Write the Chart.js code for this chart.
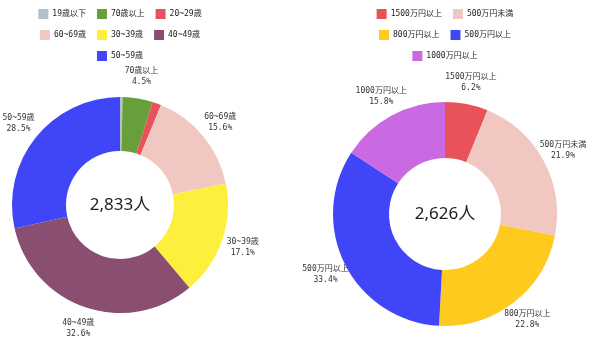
<!DOCTYPE HTML>
<html>
<head>
  <title>Doughnut</title>
  <script src="https://cdn.jsdelivr.net/npm/chart.js"></script>
  <style>
    body { margin:0; background:#fff; overflow:hidden; }
    .box { position:absolute; top:0; width:300px; height:360px; }
  </style>
</head>
<body>
  <div class="box" style="left:0px"><canvas id="ageChart" width="300" height="360"></canvas></div>
  <div class="box" style="left:300px"><canvas id="incomeChart" width="300" height="360"></canvas></div>

  <script type="text/javascript">
    // age chart
    var ageLabels = ["19歳以下", "70歳以上", "20~29歳", "60~69歳", "30~39歳", "40~49歳", "50~59歳"];
    var ageValues = [0.4, 4.5, 1.3, 15.6, 17.1, 32.6, 28.5];
    var ageColors = ["#b3c0c9", "#67a03a", "#e8525a", "#f0c8c1", "#fdef3c", "#8a4f70", "#4046f8"];
    var ageTotal  = "2,833人";

    // income chart
    var incLabels = ["1500万円以上", "500万円未満", "800万円以上", "500万円以上", "1000万円以上"];
    var incValues = [6.2, 21.9, 22.8, 33.4, 15.8];
    var incColors = ["#e8535a", "#f0c8c1", "#fdca1d", "#4046f8", "#c96ae2"];
    var incTotal  = "2,626人";

    var labelFont = '8px "DejaVu Sans Mono", "Noto Sans CJK JP", monospace';

    // draws name + percent outside every big enough slice
    var outsideLabels = {
      id: 'outsideLabels',
      afterDatasetsDraw: function(chart) {
        var ctx = chart.ctx;
        var meta = chart.getDatasetMeta(0);
        var ds = chart.data.datasets[0];
        ctx.save();
        ctx.font = labelFont;
        ctx.fillStyle = '#333';
        ctx.textAlign = 'center';
        ctx.textBaseline = 'middle';
        meta.data.forEach(function(arc, i) {
          if (ds.data[i] < 3) return;
          var p = arc.getProps(['x', 'y', 'startAngle', 'endAngle', 'outerRadius'], true);
          var mid = (p.startAngle + p.endAngle) / 2;
          var r = p.outerRadius + 22;
          var lx = p.x + Math.cos(mid) * r;
          var ly = p.y + Math.sin(mid) * r;
          ctx.fillText(chart.data.labels[i], lx, ly - 5.5);
          ctx.fillText(ds.data[i].toFixed(1) + '%', lx, ly + 5.5);
        });
        ctx.restore();
      }
    };

    // total in the hole
    var centerText = {
      id: 'centerText',
      afterDraw: function(chart) {
        var ctx = chart.ctx;
        var arc = chart.getDatasetMeta(0).data[0];
        ctx.save();
        ctx.font = '17px "Noto Sans", "Noto Sans CJK JP", sans-serif';
        ctx.fillStyle = '#222';
        ctx.textAlign = 'center';
        ctx.textBaseline = 'middle';
        ctx.fillText(chart.options.plugins.centerText.text, arc.x, arc.y);
        ctx.restore();
      }
    };

    function makeChart(id, labels, values, colors, total, pad) {
      return new Chart(document.getElementById(id), {
        type: 'doughnut',
        plugins: [outsideLabels, centerText],
        data: {
          labels: labels,
          datasets: [{
            data: values,
            backgroundColor: colors,
            borderWidth: 0
          }]
        },
        options: {
          responsive: false,
          animation: false,
          cutout: '50%',
          layout: { padding: pad },
          plugins: {
            centerText: { text: total },
            tooltip: { enabled: false },
            legend: {
              position: 'top',
              labels: {
                boxWidth: 10,
                boxHeight: 10,
                padding: 11,
                color: '#222',
                font: { size: 8, family: '"DejaVu Sans Mono", "Noto Sans CJK JP", monospace' }
              }
            }
          }
        }
      });
    }

    var ageChart = makeChart('ageChart', ageLabels, ageValues, ageColors, ageTotal,
                             { left: 12, right: 72, top: -2, bottom: 21 });
    var incChart = makeChart('incomeChart', incLabels, incValues, incColors, incTotal,
                             { left: 33, right: 43, top: -2, bottom: 3 });
  </script>
</body>
</html>
